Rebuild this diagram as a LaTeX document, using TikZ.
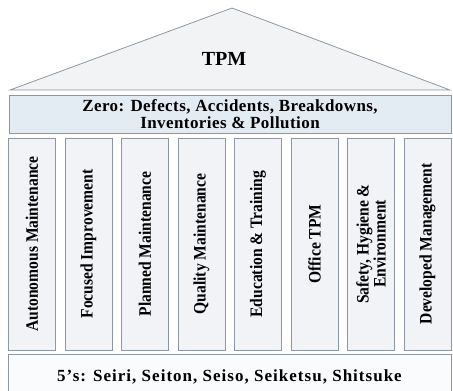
\documentclass[tikz,border=0pt]{standalone}
\usepackage{fontspec}
\setmainfont{Liberation Serif}
\newfontfamily\pillarfont[FakeStretch=0.89]{Liberation Serif}
\definecolor{roofgray}{HTML}{F2F3F5}
\definecolor{edgegray}{HTML}{8E98A4}
\definecolor{zeroblue}{HTML}{E3EBF3}
\definecolor{pillargray}{HTML}{F1F3F6}
\definecolor{basewhite}{HTML}{FAFBFC}
\tikzset{
	band/.style={draw=edgegray,line width=0.9,inner sep=0,align=center,font=\bfseries\fontsize{17}{16.5}\selectfont},
	pillar/.style={draw=edgegray,fill=pillargray,line width=0.9,rotate=90,minimum width=212,minimum height=47,inner sep=0,align=center,font=\pillarfont\bfseries\fontsize{17.5}{15.5}\selectfont}
}
\begin{document}
\begin{tikzpicture}[x=1pt,y=-1pt]
			\clip (0,0) rectangle (453,391);
			\coordinate (L) at (10,90);
			\coordinate (R) at (450,90);
			\coordinate (apex) at (232,8);
			\draw [draw=edgegray,fill=roofgray,line width=0.8] (L) to (apex) to (R) to cycle;
			\node [font=\bfseries\fontsize{20}{20}\selectfont] (tpm) at (224,59) {TPM};
			\node [band,fill=zeroblue,minimum width=442,minimum height=38] (zero) at (230,114) {\addfontfeature{LetterSpace=2.5}Zero: Defects, Accidents, Breakdowns,\\\addfontfeature{LetterSpace=2.5}Inventories \& Pollution};
			\node [pillar] (am) at (32,244) {Autonomous Maintenance};
			\node [pillar] (fi) at (88.5,244) {Focused Improvement};
			\node [pillar] (pm) at (145,244) {Planned Maintenance};
			\node [pillar] (qm) at (201.5,244) {Quality Maintenance};
			\node [pillar] (et) at (258,244) {Education \& Training};
			\node [pillar] (ot) at (314.5,244) {Office TPM};
			\node [pillar] (sh) at (371,244) {Safety, Hygiene \&\\Environment};
			\node [pillar] (dm) at (427.5,244) {Developed Management};
			\node [band,fill=basewhite,minimum width=443,minimum height=46] (base) at (229.5,377) {\addfontfeature{LetterSpace=6}5's: Seiri, Seiton, Seiso, Seiketsu, Shitsuke};
		\end{tikzpicture}
\end{document}
